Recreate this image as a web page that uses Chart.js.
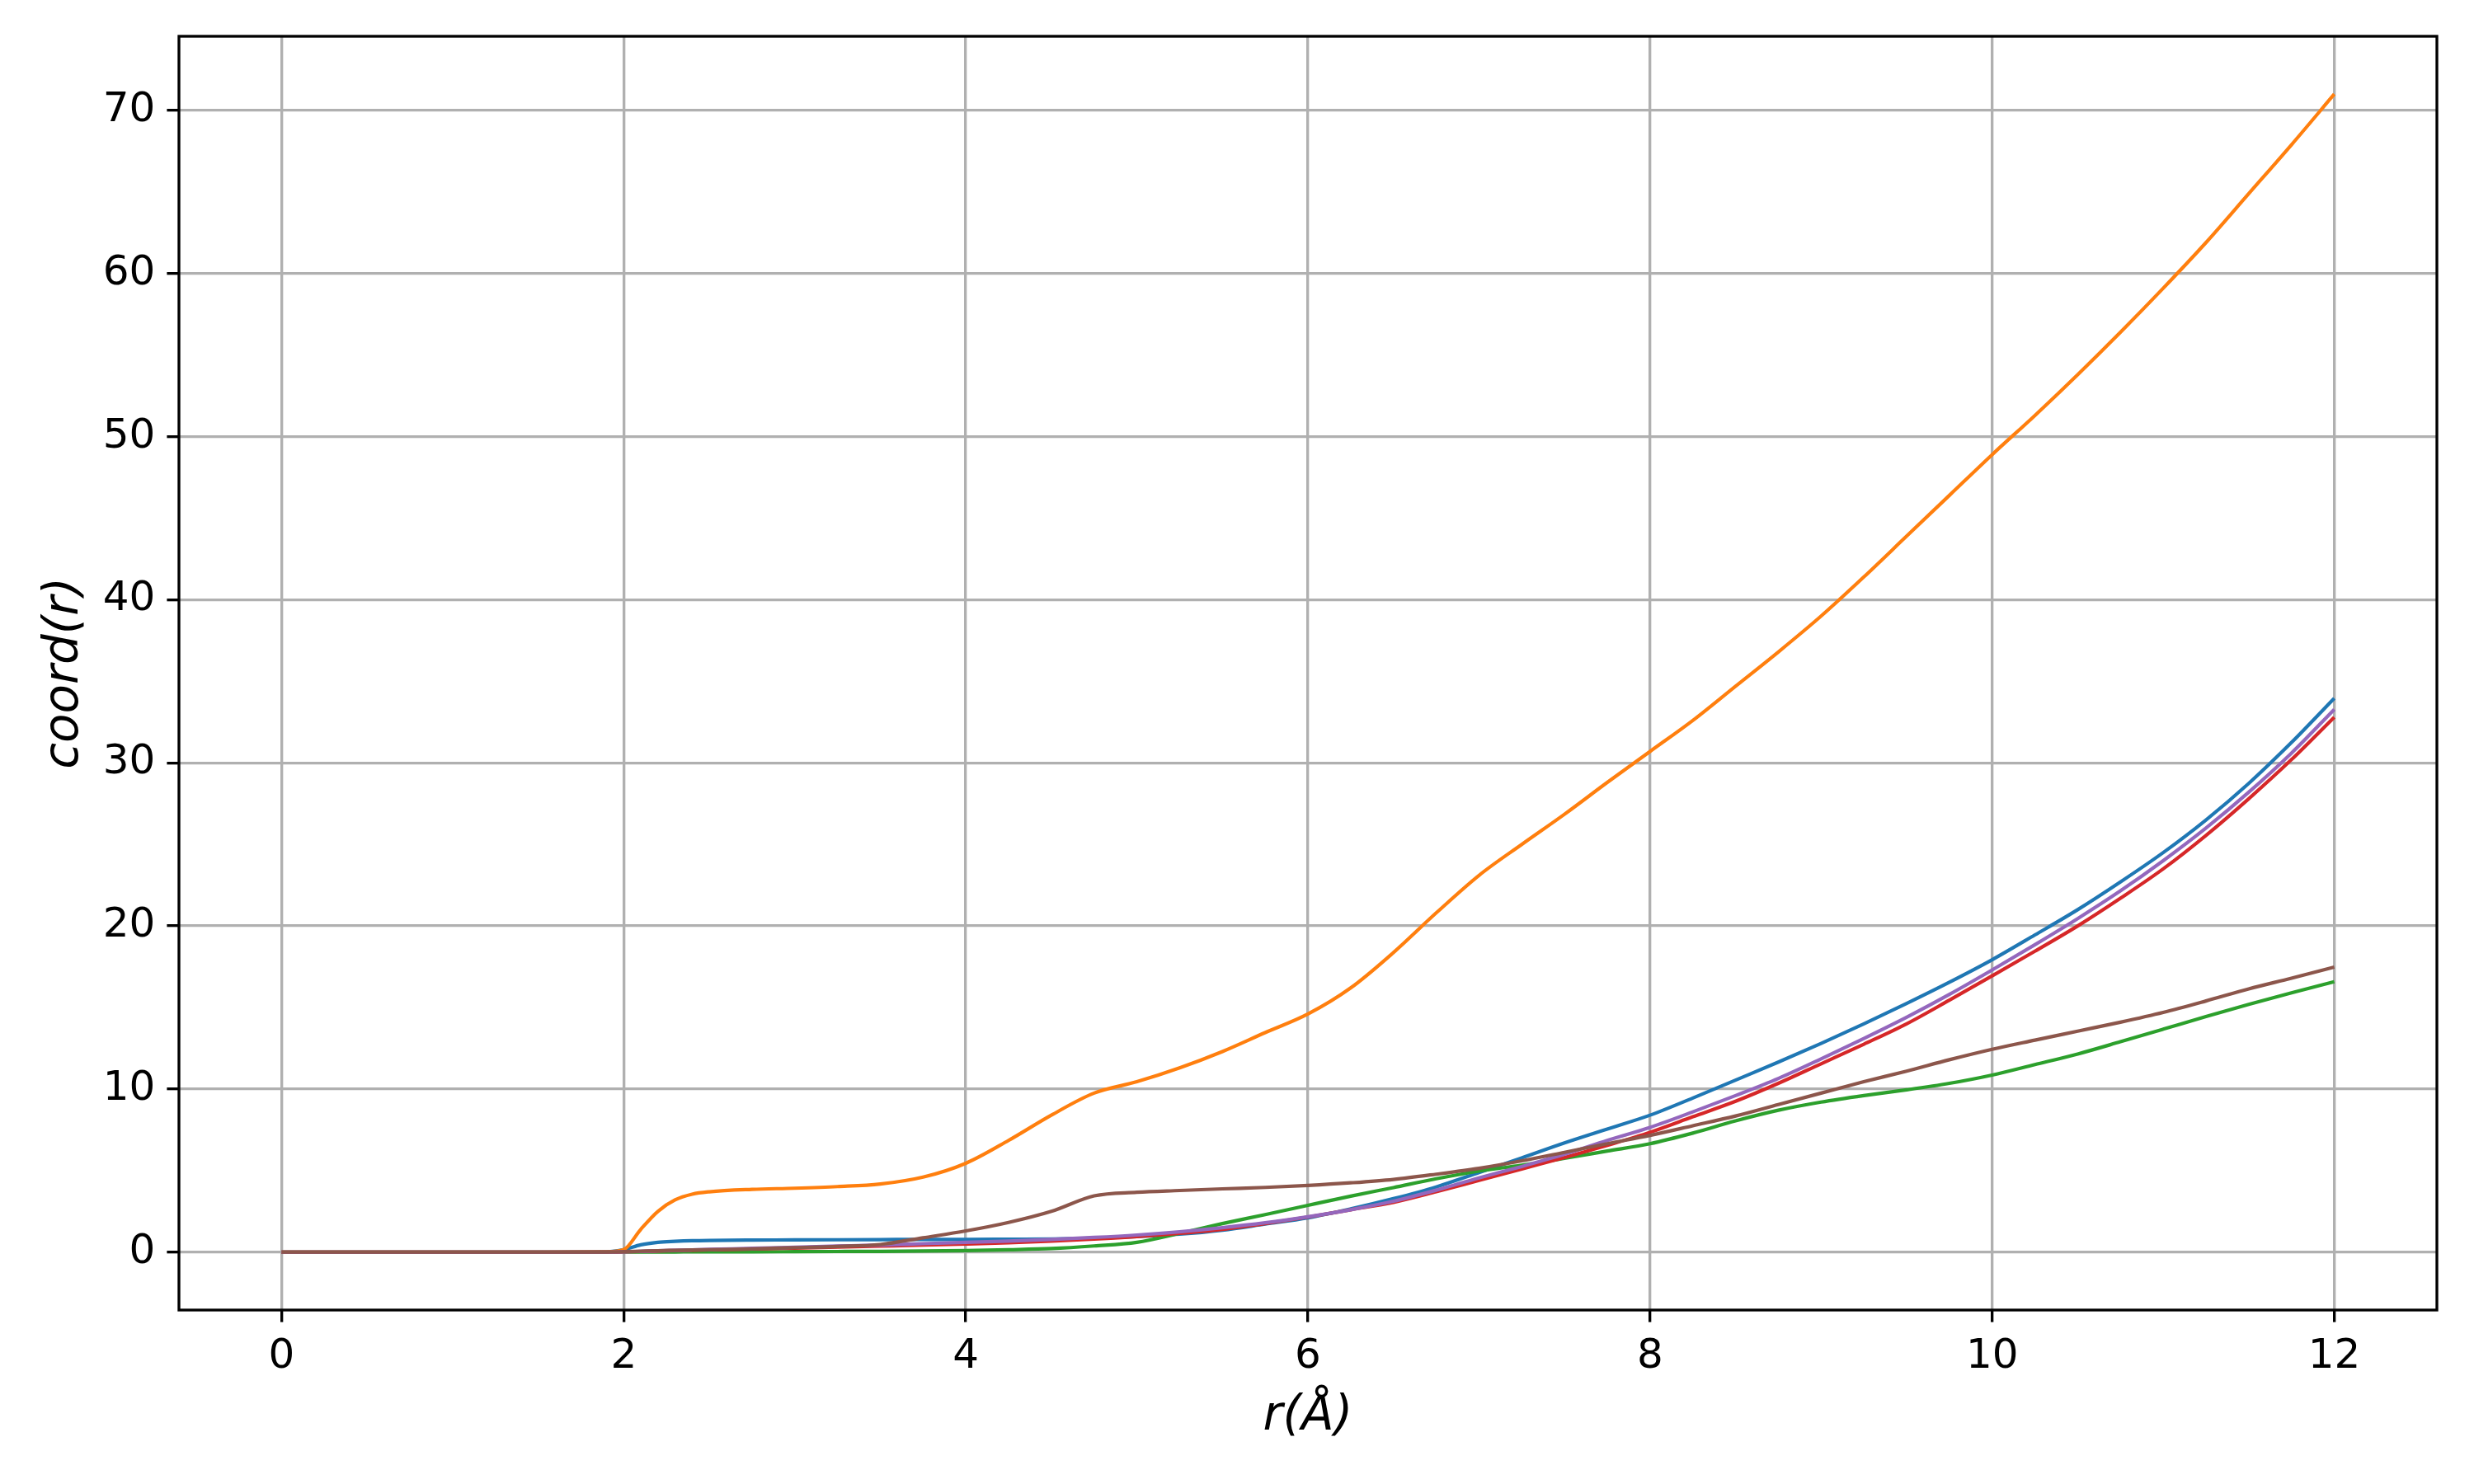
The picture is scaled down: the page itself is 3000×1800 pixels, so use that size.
<!DOCTYPE html>
<html>
<head>
<meta charset="utf-8">
<script src="https://cdn.jsdelivr.net/npm/chart.js@4/dist/chart.umd.min.js"></script>
<style>
  html, body { margin: 0; padding: 0; background: #ffffff; }
  #coordChart { display: block; }
</style>
</head>
<body>
<canvas id="coordChart" width="3000" height="1800"></canvas>
<script>
const rValues = [0, 0.5, 1, 1.5, 1.9, 2.0, 2.1, 2.2, 2.3, 2.4, 2.5, 2.75, 3, 3.25, 3.5, 3.75,
    4, 4.25, 4.5, 4.75, 5, 5.25, 5.5, 5.75, 6, 6.25, 6.5, 6.75, 7, 7.25, 7.5, 7.75,
    8, 8.25, 8.5, 8.75, 9, 9.25, 9.5, 9.75, 10, 10.25, 10.5, 10.75, 11, 11.25, 11.5, 11.75, 12];

const coordBlue = [0, 0, 0, 0, 0.02, 0.15, 0.45, 0.6, 0.66, 0.7, 0.72, 0.74, 0.75, 0.76, 0.77, 0.78,
    0.78, 0.79, 0.8, 0.85, 0.95, 1.1, 1.35, 1.72, 2.1, 2.65, 3.28, 4.0, 4.88, 5.78, 6.7, 7.55,
    8.4, 9.45, 10.55, 11.65, 12.8, 14.0, 15.25, 16.55, 17.93, 19.45, 21.0, 22.7, 24.5, 26.5, 28.74, 31.25, 33.96];

const coordOrange = [0, 0, 0, 0, 0.02, 0.15, 1.4, 2.5, 3.2, 3.55, 3.7, 3.85, 3.92, 4.02, 4.18, 4.6,
    5.45, 6.85, 8.4, 9.75, 10.45, 11.3, 12.3, 13.46, 14.6, 16.2, 18.37, 20.8, 23.1, 25.0, 26.85, 28.8,
    30.7, 32.6, 34.7, 36.8, 39.0, 41.4, 43.9, 46.4, 48.9, 51.3, 53.8, 56.4, 59.1, 61.9, 64.9, 67.9, 71.0];

const coordGreen = [0, 0, 0, 0, 0, 0, 0.01, 0.01, 0.01, 0.02, 0.02, 0.02, 0.03, 0.04, 0.05, 0.07,
    0.1, 0.15, 0.22, 0.38, 0.6, 1.15, 1.75, 2.3, 2.87, 3.43, 3.96, 4.5, 4.97, 5.33, 5.75, 6.2,
    6.65, 7.3, 8.05, 8.7, 9.2, 9.6, 9.95, 10.35, 10.86, 11.5, 12.15, 12.9, 13.67, 14.45, 15.19, 15.9, 16.58];

const coordRed = [0, 0, 0, 0, 0, 0.02, 0.04, 0.07, 0.1, 0.12, 0.14, 0.19, 0.25, 0.31, 0.37, 0.43,
    0.5, 0.58, 0.68, 0.8, 0.95, 1.15, 1.4, 1.75, 2.15, 2.6, 3.05, 3.7, 4.4, 5.1, 5.8, 6.55,
    7.35, 8.3, 9.25, 10.35, 11.55, 12.75, 14.0, 15.45, 16.94, 18.45, 20.0, 21.7, 23.5, 25.55, 27.8, 30.2, 32.8];

const coordPurple = [0, 0, 0, 0, 0, 0.02, 0.05, 0.08, 0.11, 0.14, 0.17, 0.23, 0.3, 0.37, 0.44, 0.52,
    0.6, 0.68, 0.78, 0.9, 1.05, 1.25, 1.5, 1.8, 2.17, 2.6, 3.12, 3.8, 4.55, 5.25, 6.0, 6.85,
    7.65, 8.6, 9.6, 10.65, 11.85, 13.1, 14.4, 15.8, 17.3, 18.85, 20.45, 22.15, 24.0, 26.0, 28.2, 30.6, 33.28];

const coordBrown = [0, 0, 0, 0, 0.01, 0.03, 0.06, 0.09, 0.11, 0.13, 0.15, 0.2, 0.28, 0.35, 0.47, 0.88,
    1.3, 1.82, 2.5, 3.45, 3.67, 3.78, 3.88, 3.97, 4.09, 4.25, 4.46, 4.78, 5.14, 5.6, 6.12, 6.65,
    7.16, 7.75, 8.35, 9.05, 9.75, 10.45, 11.1, 11.8, 12.44, 13.0, 13.55, 14.1, 14.7, 15.4, 16.14, 16.8, 17.48];

const xTicks = [0, 2, 4, 6, 8, 10, 12];
const yTicks = [0, 10, 20, 30, 40, 50, 60, 70];

function toPoints(values) {
    return rValues.map((r, i) => ({ x: r, y: values[i] }));
}

// matplotlib draws the last series on top, so later series get a lower order
const seriesList = [
    { name: 'blue', values: coordBlue, color: '#1f77b4' },
    { name: 'orange', values: coordOrange, color: '#ff7f0e' },
    { name: 'green', values: coordGreen, color: '#2ca02c' },
    { name: 'red', values: coordRed, color: '#d62728' },
    { name: 'purple', values: coordPurple, color: '#9467bd' },
    { name: 'brown', values: coordBrown, color: '#8c564b' },
];

const datasets = seriesList.map((s, i) => ({
    label: s.name,
    data: toPoints(s.values),
    borderColor: s.color,
    backgroundColor: s.color,
    borderWidth: 4.2,
    pointRadius: 0,
    fill: false,
    cubicInterpolationMode: 'monotone',
    order: seriesList.length - i,
}));

// box around the plot area, like the matplotlib spines
const frame = {
    id: 'frame',
    afterDraw(chart) {
        const a = chart.chartArea;
        const c = chart.ctx;
        c.save();
        c.strokeStyle = '#000000';
        c.lineWidth = 3.33;
        c.strokeRect(a.left, a.top, a.right - a.left, a.bottom - a.top);
        c.restore();
    }
};

const tickFont = { family: 'DejaVu Sans', size: 50 };
const titleFont = { family: 'DejaVu Sans', size: 58, style: 'italic' };

const ctx = document.getElementById('coordChart').getContext('2d');
const coordChart = new Chart(ctx, {
    type: 'line',
    data: { datasets: datasets },
    plugins: [frame],
    options: {
        responsive: false,
        animation: false,
        devicePixelRatio: 1,
        layout: { padding: { top: 44, right: 45, left: 0, bottom: 0 } },
        plugins: {
            legend: { display: false },
            tooltip: { enabled: false },
        },
        scales: {
            x: {
                type: 'linear',
                position: 'bottom',
                min: -0.6,
                max: 12.6,
                afterFit: (scale) => { scale.height = 211; },
                afterBuildTicks: (scale) => { scale.ticks = xTicks.map(v => ({ value: v })); },
                border: { display: false },
                grid: {
                    color: '#b0b0b0',
                    lineWidth: 3.33,
                    drawTicks: true,
                    tickLength: 14.6,
                    tickColor: '#000000',
                    tickWidth: 3.33,
                },
                ticks: {
                    color: '#000000',
                    font: tickFont,
                    padding: 12,
                    maxRotation: 0,
                    callback: (v) => String(v),
                },
                title: {
                    display: true,
                    text: 'r(Å)',
                    color: '#000000',
                    font: titleFont,
                    padding: { top: 0, bottom: 46 },
                },
            },
            y: {
                type: 'linear',
                min: -3.55,
                max: 74.55,
                afterFit: (scale) => { scale.width = 217; },
                afterBuildTicks: (scale) => { scale.ticks = yTicks.map(v => ({ value: v })); },
                border: { display: false },
                grid: {
                    color: '#b0b0b0',
                    lineWidth: 3.33,
                    drawTicks: true,
                    tickLength: 14.6,
                    tickColor: '#000000',
                    tickWidth: 3.33,
                },
                ticks: {
                    color: '#000000',
                    font: tickFont,
                    padding: 14,
                    callback: (v) => String(v),
                },
                title: {
                    display: true,
                    text: 'coord(r)',
                    color: '#000000',
                    font: titleFont,
                    padding: { top: 44, bottom: 0 },
                },
            },
        },
    },
});
</script>
</body>
</html>
